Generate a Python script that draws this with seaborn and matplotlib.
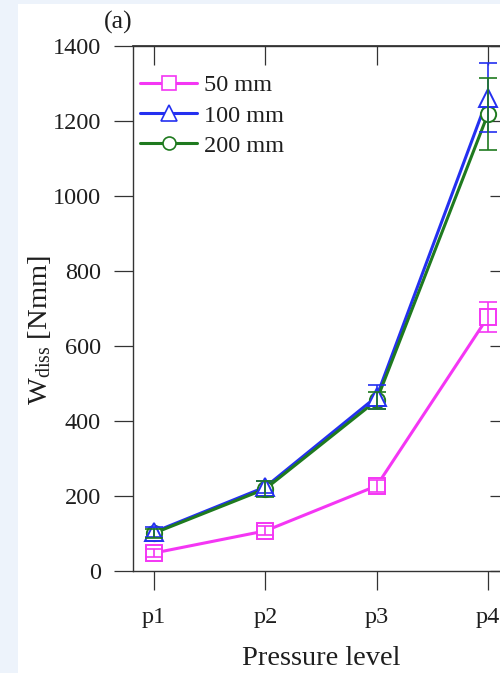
import matplotlib
matplotlib.use("Agg")
import matplotlib.pyplot as plt
import seaborn as sns
import pandas as pd
from matplotlib.patches import Rectangle
from matplotlib.lines import Line2D

# ---- data ----
levels = ["p1", "p2", "p3", "p4"]
series_names = ["50 mm", "100 mm", "200 mm"]
w_50 = [48, 107, 227, 677]
w_100 = [104, 224, 465, 1262]
w_200 = [101, 219, 455, 1218]
err_50 = [10, 12, 16, 40]
err_100 = [14, 16, 32, 92]
err_200 = [12, 22, 22, 96]
y_ticks = [0, 200, 400, 600, 800, 1000, 1200, 1400]

values = [w_50, w_100, w_200]
errors = [err_50, err_100, err_200]
colors = ["#f436f4", "#2430f0", "#1f7a1f"]
markers = ["s", "^", "o"]
msizes = [11.5, 13, 11]
line_z = [2.2, 2.0, 2.1]     # green line over blue line
marker_z = [3.3, 3.2, 3.0]   # triangles over circles

sns.set_theme(style="white")
plt.rcParams["font.family"] = ["Liberation Serif", "DejaVu Serif"]
plt.rcParams["mathtext.fontset"] = "custom"
plt.rcParams["mathtext.rm"] = "Liberation Serif"
plt.rcParams["mathtext.it"] = "Liberation Serif:italic"
text_color = "#1e1e1e"

fig = plt.figure(figsize=(5.0, 6.73), dpi=100, facecolor="white")
fig.patches.append(Rectangle((0, 0), 18 / 500, 1, transform=fig.transFigure,
                             facecolor="#edf3fb", edgecolor="none", zorder=-10))
fig.patches.append(Rectangle((0, 1 - 4 / 673), 1, 4 / 673, transform=fig.transFigure,
                             facecolor="#edf3fb", edgecolor="none", zorder=-10))

ax = fig.add_axes([133 / 500, 102 / 673, 376 / 500, 525 / 673])
ax.set_facecolor("none")

handles = []
for name, vals, errs, c, m, ms, lz, mz in zip(series_names, values, errors, colors,
                                              markers, msizes, line_z, marker_z):
    df = pd.DataFrame({"level": levels, "W": vals})
    # connecting line
    sns.lineplot(data=df, x="level", y="W", ax=ax, color=c, lw=2.2,
                 sort=False, zorder=lz, legend=False)
    # hollow markers
    sns.lineplot(data=df, x="level", y="W", ax=ax, color=c, lw=0, linestyle="",
                 marker=m, ms=ms, mfc="white", mec=c, mew=1.4,
                 sort=False, zorder=mz, legend=False)
    ax.errorbar(levels, vals, yerr=errs, fmt="none", ecolor=c, elinewidth=1.2,
                capsize=6.5, capthick=1.2, zorder=4)
    handles.append(Line2D([], [], color=c, lw=2.2, marker=m, ms=ms * 0.85,
                          mfc="white", mec=c, mew=1.2, label=name))

ax.set_xlim(-0.19, 3.19)
ax.set_ylim(0, 1400)
ax.set_yticks(y_ticks)
ax.set_yticklabels([str(v) for v in y_ticks])

for sp in ax.spines.values():
    sp.set_color("#333333")
    sp.set_linewidth(1.0)
    sp.set_visible(True)

ax.tick_params(axis="both", which="major", direction="out", length=14, width=0.9,
               color="#333333", labelcolor=text_color, labelsize=17.5)
ax.tick_params(axis="x", pad=12, bottom=True)
ax.tick_params(axis="y", pad=9, left=True)

# inward ticks on top and right
sec_x = ax.secondary_xaxis("top")
sec_x.set_xticks([0, 1, 2, 3])
sec_x.tick_params(direction="in", length=14, width=0.9, color="#333333", labeltop=False)
sec_x.spines["top"].set_color("#333333")
sec_y = ax.secondary_yaxis("right")
sec_y.set_yticks(y_ticks)
sec_y.tick_params(direction="in", length=14, width=0.9, color="#333333", labelright=False)
sec_y.spines["right"].set_color("#333333")

ax.set_xlabel("Pressure level", fontsize=20.5, color=text_color)
ax.xaxis.set_label_coords(0.501, -0.142)
ax.set_ylabel(r"W$_{\mathregular{diss}}$ [Nmm]", fontsize=20.5, color=text_color)
ax.yaxis.set_label_coords(-0.212, 0.459)

leg = ax.legend(handles=handles, loc="upper left", bbox_to_anchor=(0.019, 0.946),
                frameon=False, fontsize=17.5, handlelength=2.35, handletextpad=0.27,
                labelspacing=0.34, borderpad=0, borderaxespad=0)
for t in leg.get_texts():
    t.set_color(text_color)

fig.text(118 / 500, 1 - 22 / 673, "(a)", fontsize=18.5, color=text_color,
         ha="center", va="center")

fig.savefig("out.png", dpi=100, facecolor=fig.get_facecolor())
